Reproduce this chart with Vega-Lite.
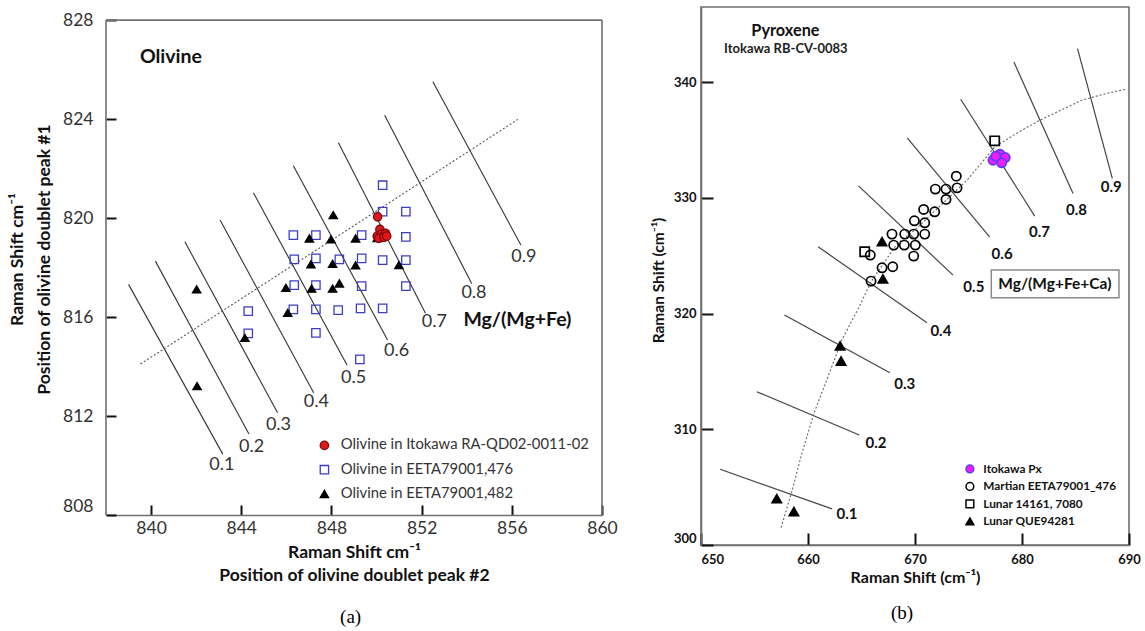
{
  "$schema": "https://vega.github.io/schema/vega-lite/v6.json",
  "background": "white",
  "padding": {"left": 8, "top": 6, "right": 2, "bottom": 2},
  "spacing": 32,
  "resolve": {
    "scale": {"x": "independent", "y": "independent", "shape": "independent", "fill": "independent", "stroke": "independent"},
    "legend": {"shape": "independent", "fill": "independent", "stroke": "independent"}
  },
  "config": {
    "font": "Lato",
    "view": {"stroke": "#707070", "strokeWidth": 1.6},
    "axis": {"grid": false, "domainColor": "#707070", "domainWidth": 1.6, "tickColor": "#111", "tickWidth": 2, "labelFont": "Lato", "titleFont": "Lato", "labelFlush": false},
    "legend": {"labelLimit": 500}
  },
  "hconcat": [
    {
      "width": 496,
      "height": 508,
      "view": {"stroke": null},
      "encoding": {
        "x": {
          "field": "x", "type": "quantitative",
          "scale": {"domain": [838, 860], "nice": false, "zero": false},
          "axis": {
            "values": [840, 844, 848, 852, 856, 860],
            "tickSize": -10, "labelPadding": 14, "labelFontSize": 17.5, "labelColor": "#333",
            "title": ["Raman Shift cm⁻¹", "Position of olivine doublet peak #2"],
            "titleFontSize": 17.5, "titleFontWeight": "bold", "titleColor": "#111",
            "titleBaseline": "top", "titleY": 28, "titleLineHeight": 23.3
          }
        },
        "y": {
          "field": "y", "type": "quantitative",
          "scale": {"domain": [808, 828.53], "nice": false, "zero": false},
          "axis": {
            "values": [808, 812, 816, 820, 824, 828], "domain": false,
            "tickSize": -10, "labelPadding": 23, "labelFontSize": 17.5, "labelColor": "#333",
            "labelBaseline": {"condition": {"test": "datum.value == 808", "value": "bottom"}, "value": "middle"},
            "title": ["Raman Shift cm⁻¹", "Position of olivine doublet peak #1"],
            "titleFontSize": 17.5, "titleFontWeight": "bold", "titleColor": "#111",
            "titleAngle": 270, "titleBaseline": "top", "titleAlign": "center",
            "titleX": -98, "titleY": 252, "titleLineHeight": 27.8
          }
        }
      },
      "layer": [
        {
          "data": {"values": [
            {"x": 838, "x2": 860, "y": 828, "y2": 828},
            {"x": 860, "x2": 860, "y": 808, "y2": 828},
            {"x": 838, "x2": 838, "y": 808, "y2": 828}
          ]},
          "mark": {"type": "rule", "color": "#707070", "strokeWidth": 1.6},
          "encoding": {"x2": {"field": "x2"}, "y2": {"field": "y2"}}
        },
        {
          "data": {"values": [
            {"f": "0.1", "x": 839.0, "y": 817.32}, {"f": "0.1", "x": 843.18, "y": 810.46},
            {"f": "0.2", "x": 840.19, "y": 818.26}, {"f": "0.2", "x": 844.34, "y": 811.27},
            {"f": "0.3", "x": 841.5, "y": 819.04}, {"f": "0.3", "x": 845.61, "y": 812.13},
            {"f": "0.4", "x": 843.06, "y": 819.92}, {"f": "0.4", "x": 847.21, "y": 812.94},
            {"f": "0.5", "x": 844.54, "y": 821.02}, {"f": "0.5", "x": 848.69, "y": 814.06},
            {"f": "0.6", "x": 846.31, "y": 822.11}, {"f": "0.6", "x": 850.49, "y": 815.07},
            {"f": "0.7", "x": 848.31, "y": 823.04}, {"f": "0.7", "x": 852.17, "y": 816.15},
            {"f": "0.8", "x": 850.36, "y": 824.16}, {"f": "0.8", "x": 854.22, "y": 817.36},
            {"f": "0.9", "x": 852.5, "y": 825.51}, {"f": "0.9", "x": 856.4, "y": 818.91}
          ]},
          "mark": {"type": "line", "color": "#333", "strokeWidth": 1.1},
          "encoding": {"detail": {"field": "f"}}
        },
        {
          "data": {"values": [{"x": 839.53, "y": 814.1}, {"x": 856.27, "y": 823.99}]},
          "mark": {"type": "line", "color": "#555", "strokeWidth": 1.1, "strokeDash": [2, 2]},
          "encoding": {}
        },
        {
          "data": {"values": [
            {"s": "Olivine in EETA79001,476", "x": 850.27, "y": 821.33},
            {"s": "Olivine in EETA79001,476", "x": 850.27, "y": 820.26},
            {"s": "Olivine in EETA79001,476", "x": 851.3, "y": 820.26},
            {"s": "Olivine in EETA79001,476", "x": 846.31, "y": 819.31},
            {"s": "Olivine in EETA79001,476", "x": 847.31, "y": 819.31},
            {"s": "Olivine in EETA79001,476", "x": 849.34, "y": 819.31},
            {"s": "Olivine in EETA79001,476", "x": 851.3, "y": 819.24},
            {"s": "Olivine in EETA79001,476", "x": 846.35, "y": 818.33},
            {"s": "Olivine in EETA79001,476", "x": 847.31, "y": 818.37},
            {"s": "Olivine in EETA79001,476", "x": 848.35, "y": 818.33},
            {"s": "Olivine in EETA79001,476", "x": 849.34, "y": 818.37},
            {"s": "Olivine in EETA79001,476", "x": 850.27, "y": 818.3},
            {"s": "Olivine in EETA79001,476", "x": 851.3, "y": 818.3},
            {"s": "Olivine in EETA79001,476", "x": 846.35, "y": 817.29},
            {"s": "Olivine in EETA79001,476", "x": 847.31, "y": 817.29},
            {"s": "Olivine in EETA79001,476", "x": 849.34, "y": 817.25},
            {"s": "Olivine in EETA79001,476", "x": 851.3, "y": 817.25},
            {"s": "Olivine in EETA79001,476", "x": 844.31, "y": 816.24},
            {"s": "Olivine in EETA79001,476", "x": 846.31, "y": 816.31},
            {"s": "Olivine in EETA79001,476", "x": 847.31, "y": 816.31},
            {"s": "Olivine in EETA79001,476", "x": 848.3, "y": 816.28},
            {"s": "Olivine in EETA79001,476", "x": 849.29, "y": 816.35},
            {"s": "Olivine in EETA79001,476", "x": 850.27, "y": 816.35},
            {"s": "Olivine in EETA79001,476", "x": 844.31, "y": 815.34},
            {"s": "Olivine in EETA79001,476", "x": 847.31, "y": 815.36},
            {"s": "Olivine in EETA79001,476", "x": 849.26, "y": 814.29},
            {"s": "Olivine in EETA79001,482", "x": 848.08, "y": 820.12},
            {"s": "Olivine in EETA79001,482", "x": 847.02, "y": 819.18},
            {"s": "Olivine in EETA79001,482", "x": 847.98, "y": 819.14},
            {"s": "Olivine in EETA79001,482", "x": 849.07, "y": 819.18},
            {"s": "Olivine in EETA79001,482", "x": 850.03, "y": 819.2},
            {"s": "Olivine in EETA79001,482", "x": 847.09, "y": 818.13},
            {"s": "Olivine in EETA79001,482", "x": 848.05, "y": 818.15},
            {"s": "Olivine in EETA79001,482", "x": 849.07, "y": 818.09},
            {"s": "Olivine in EETA79001,482", "x": 850.99, "y": 818.1},
            {"s": "Olivine in EETA79001,482", "x": 842.02, "y": 817.12},
            {"s": "Olivine in EETA79001,482", "x": 845.98, "y": 817.18},
            {"s": "Olivine in EETA79001,482", "x": 847.12, "y": 817.15},
            {"s": "Olivine in EETA79001,482", "x": 848.05, "y": 817.15},
            {"s": "Olivine in EETA79001,482", "x": 848.35, "y": 817.36},
            {"s": "Olivine in EETA79001,482", "x": 846.06, "y": 816.17},
            {"s": "Olivine in EETA79001,482", "x": 844.16, "y": 815.16},
            {"s": "Olivine in EETA79001,482", "x": 842.04, "y": 813.21},
            {"s": "Olivine in Itokawa RA-QD02-0011-02", "x": 850.05, "y": 820.05},
            {"s": "Olivine in Itokawa RA-QD02-0011-02", "x": 850.15, "y": 819.54},
            {"s": "Olivine in Itokawa RA-QD02-0011-02", "x": 850.03, "y": 819.27},
            {"s": "Olivine in Itokawa RA-QD02-0011-02", "x": 850.22, "y": 819.35},
            {"s": "Olivine in Itokawa RA-QD02-0011-02", "x": 850.4, "y": 819.38},
            {"s": "Olivine in Itokawa RA-QD02-0011-02", "x": 850.1, "y": 819.18},
            {"s": "Olivine in Itokawa RA-QD02-0011-02", "x": 850.33, "y": 819.22},
            {"s": "Olivine in Itokawa RA-QD02-0011-02", "x": 850.45, "y": 819.27}
          ]},
          "mark": {"type": "point", "size": 70, "strokeWidth": 1.3, "opacity": 1},
          "encoding": {
            "shape": {"field": "s", "type": "nominal",
              "scale": {"domain": ["Olivine in Itokawa RA-QD02-0011-02", "Olivine in EETA79001,476", "Olivine in EETA79001,482"], "range": ["circle", "square", "triangle-up"]},
              "legend": {"orient": "none", "legendX": 211, "legendY": 431, "title": null, "labelFontSize": 14.8, "labelColor": "#333", "labelFont": "Lato", "symbolSize": 70, "rowPadding": 8.3, "labelOffset": 9, "symbolStrokeWidth": 1.3}},
            "fill": {"field": "s", "type": "nominal",
              "scale": {"domain": ["Olivine in Itokawa RA-QD02-0011-02", "Olivine in EETA79001,476", "Olivine in EETA79001,482"], "range": ["#e3161c", "transparent", "#000000"]},
              "legend": {"orient": "none", "legendX": 211, "legendY": 431, "title": null, "labelFontSize": 14.8, "labelColor": "#333", "labelFont": "Lato", "symbolSize": 70, "rowPadding": 8.3, "labelOffset": 9, "symbolStrokeWidth": 1.3}},
            "stroke": {"field": "s", "type": "nominal",
              "scale": {"domain": ["Olivine in Itokawa RA-QD02-0011-02", "Olivine in EETA79001,476", "Olivine in EETA79001,482"], "range": ["#7a0a0a", "#3d3dc6", "#000000"]},
              "legend": {"orient": "none", "legendX": 211, "legendY": 431, "title": null, "labelFontSize": 14.8, "labelColor": "#333", "labelFont": "Lato", "symbolSize": 70, "rowPadding": 8.3, "labelOffset": 9, "symbolStrokeWidth": 1.3}}
          }
        },
        {
          "data": {"values": [
            {"label": "0.1", "x": 843.14, "y": 810.01},
            {"label": "0.2", "x": 844.46, "y": 810.74},
            {"label": "0.3", "x": 845.65, "y": 811.62},
            {"label": "0.4", "x": 847.33, "y": 812.56},
            {"label": "0.5", "x": 848.98, "y": 813.54},
            {"label": "0.6", "x": 850.89, "y": 814.62},
            {"label": "0.7", "x": 852.56, "y": 815.79},
            {"label": "0.8", "x": 854.32, "y": 816.98},
            {"label": "0.9", "x": 856.53, "y": 818.41}
          ]},
          "mark": {"type": "text", "fontSize": 18, "color": "#333", "font": "Lato", "align": "center", "baseline": "middle"},
          "encoding": {"text": {"field": "label"}}
        },
        {
          "data": {"values": [{"label": "Olivine", "x": 840.88, "y": 826.49}]},
          "mark": {"type": "text", "fontSize": 19.5, "fontWeight": "bold", "color": "#111", "font": "Lato", "align": "center", "baseline": "middle"},
          "encoding": {"text": {"field": "label"}}
        },
        {
          "data": {"values": [{"label": "Mg/(Mg+Fe)", "x": 856.25, "y": 815.89}]},
          "mark": {"type": "text", "fontSize": 19.5, "fontWeight": "bold", "color": "#111", "font": "Lato", "align": "center", "baseline": "middle"},
          "encoding": {"text": {"field": "label"}}
        },
        {
          "data": {"values": [{"label": "(a)", "x": 848.85, "y": 803.89}]},
          "mark": {"type": "text", "fontSize": 19, "color": "#000", "font": "Liberation Serif", "align": "center", "baseline": "middle"},
          "encoding": {"text": {"field": "label"}}
        }
      ]
    },
    {
      "width": 428,
      "height": 538,
      "encoding": {
        "x": {
          "field": "x", "type": "quantitative",
          "scale": {"domain": [650, 690], "nice": false, "zero": false},
          "axis": {
            "values": [650, 660, 670, 680, 690],
            "tickSize": -12, "labelPadding": 20, "labelFontSize": 13, "labelFontWeight": "bold", "labelColor": "#111",
            "labelAlign": {"condition": {"test": "datum.value == 650", "value": "left"}, "value": "center"},
            "title": "Raman Shift (cm⁻¹)", "titleFontSize": 16, "titleFontWeight": "bold", "titleColor": "#111",
            "titleBaseline": "top", "titleY": 24.5
          }
        },
        "y": {
          "field": "y", "type": "quantitative",
          "scale": {"domain": [300, 346.5], "nice": false, "zero": false},
          "axis": {
            "values": [300, 310, 320, 330, 340],
            "tickSize": -12, "labelPadding": 17, "labelFontSize": 13, "labelFontWeight": "bold", "labelColor": "#111",
            "labelBaseline": {"condition": {"test": "datum.value == 300", "value": "bottom"}, "value": "middle"},
            "title": "Raman Shift (cm⁻¹)", "titleFontSize": 15.5, "titleFontWeight": "bold", "titleColor": "#111",
            "titleAngle": 270, "titleBaseline": "top", "titleAlign": "center", "titleX": -50, "titleY": 273
          }
        }
      },
      "layer": [
        {
          "data": {"values": [
            {"f": "0.1", "x": 651.79, "y": 306.55}, {"f": "0.1", "x": 662.25, "y": 303.12},
            {"f": "0.2", "x": 655.21, "y": 313.25}, {"f": "0.2", "x": 664.79, "y": 309.51},
            {"f": "0.3", "x": 657.8, "y": 319.88}, {"f": "0.3", "x": 667.65, "y": 314.89},
            {"f": "0.4", "x": 660.95, "y": 325.77}, {"f": "0.4", "x": 671.12, "y": 319.21},
            {"f": "0.5", "x": 664.72, "y": 331.04}, {"f": "0.5", "x": 673.55, "y": 323.33},
            {"f": "0.6", "x": 669.27, "y": 335.19}, {"f": "0.6", "x": 676.97, "y": 326.64},
            {"f": "0.7", "x": 674.27, "y": 338.53}, {"f": "0.7", "x": 681.19, "y": 328.43},
            {"f": "0.8", "x": 679.24, "y": 341.75}, {"f": "0.8", "x": 684.77, "y": 330.39},
            {"f": "0.9", "x": 685.19, "y": 342.91}, {"f": "0.9", "x": 688.44, "y": 331.68}
          ]},
          "mark": {"type": "line", "color": "#444", "strokeWidth": 1.2},
          "encoding": {"detail": {"field": "f"}}
        },
        {
          "data": {"values": [
            {"x": 657.48, "y": 301.5}, {"x": 658.45, "y": 304.48}, {"x": 659.43, "y": 307.93},
            {"x": 660.56, "y": 311.39}, {"x": 661.87, "y": 314.55}, {"x": 663.16, "y": 317.72},
            {"x": 664.79, "y": 320.6}, {"x": 665.93, "y": 322.81}, {"x": 667.06, "y": 324.34},
            {"x": 668.35, "y": 326.07}, {"x": 669.98, "y": 327.22}, {"x": 671.61, "y": 328.66},
            {"x": 673.23, "y": 330.09}, {"x": 674.86, "y": 331.53}, {"x": 676.16, "y": 332.97},
            {"x": 677.46, "y": 334.41}, {"x": 679.73, "y": 335.71}, {"x": 681.68, "y": 336.72},
            {"x": 682.98, "y": 337.29}, {"x": 685.58, "y": 338.44}, {"x": 687.85, "y": 339.02},
            {"x": 689.64, "y": 339.37}
          ]},
          "mark": {"type": "line", "color": "#666", "strokeWidth": 1.1, "strokeDash": [2, 2]},
          "encoding": {}
        },
        {
          "data": {"values": [
            {"s": "Martian EETA79001_476", "x": 673.86, "y": 331.88},
            {"s": "Martian EETA79001_476", "x": 671.9, "y": 330.76},
            {"s": "Martian EETA79001_476", "x": 672.9, "y": 330.76},
            {"s": "Martian EETA79001_476", "x": 673.93, "y": 330.87},
            {"s": "Martian EETA79001_476", "x": 672.9, "y": 329.87},
            {"s": "Martian EETA79001_476", "x": 671.84, "y": 328.8},
            {"s": "Martian EETA79001_476", "x": 670.81, "y": 329.0},
            {"s": "Martian EETA79001_476", "x": 669.94, "y": 328.02},
            {"s": "Martian EETA79001_476", "x": 670.91, "y": 327.85},
            {"s": "Martian EETA79001_476", "x": 667.85, "y": 326.87},
            {"s": "Martian EETA79001_476", "x": 669.04, "y": 326.87},
            {"s": "Martian EETA79001_476", "x": 669.88, "y": 326.87},
            {"s": "Martian EETA79001_476", "x": 670.91, "y": 326.87},
            {"s": "Martian EETA79001_476", "x": 668.01, "y": 325.92},
            {"s": "Martian EETA79001_476", "x": 669.0, "y": 325.92},
            {"s": "Martian EETA79001_476", "x": 670.03, "y": 325.92},
            {"s": "Martian EETA79001_476", "x": 669.88, "y": 324.97},
            {"s": "Martian EETA79001_476", "x": 665.82, "y": 325.06},
            {"s": "Martian EETA79001_476", "x": 666.92, "y": 323.96},
            {"s": "Martian EETA79001_476", "x": 667.92, "y": 324.05},
            {"s": "Martian EETA79001_476", "x": 665.89, "y": 322.81},
            {"s": "Lunar 14161,  7080", "x": 665.3, "y": 325.34},
            {"s": "Lunar 14161,  7080", "x": 677.45, "y": 334.93},
            {"s": "Lunar QUE94281", "x": 666.92, "y": 326.21},
            {"s": "Lunar QUE94281", "x": 667.0, "y": 323.0},
            {"s": "Lunar QUE94281", "x": 663.0, "y": 317.2},
            {"s": "Lunar QUE94281", "x": 663.09, "y": 315.9},
            {"s": "Lunar QUE94281", "x": 657.08, "y": 304.0},
            {"s": "Lunar QUE94281", "x": 658.68, "y": 302.89},
            {"s": "Itokawa  Px", "x": 677.29, "y": 333.26},
            {"s": "Itokawa  Px", "x": 677.94, "y": 333.78},
            {"s": "Itokawa  Px", "x": 678.43, "y": 333.49},
            {"s": "Itokawa  Px", "x": 678.1, "y": 333.03},
            {"s": "Itokawa  Px", "x": 677.55, "y": 333.61}
          ]},
          "mark": {"type": "point", "size": 85, "strokeWidth": 1.7, "opacity": 1},
          "encoding": {
            "shape": {"field": "s", "type": "nominal",
              "scale": {"domain": ["Itokawa  Px", "Martian EETA79001_476", "Lunar 14161,  7080", "Lunar QUE94281"], "range": ["circle", "circle", "square", "triangle-up"]},
              "legend": {"orient": "none", "legendX": 263, "legendY": 456, "title": null, "labelFontSize": 11.8, "labelFontWeight": "bold", "labelColor": "#111", "labelFont": "Lato", "symbolSize": 60, "rowPadding": 3.5, "labelOffset": 7.5, "symbolStrokeWidth": 1.5}},
            "fill": {"field": "s", "type": "nominal",
              "scale": {"domain": ["Itokawa  Px", "Martian EETA79001_476", "Lunar 14161,  7080", "Lunar QUE94281"], "range": ["#f01ef0", "transparent", "transparent", "#000000"]},
              "legend": {"orient": "none", "legendX": 263, "legendY": 456, "title": null, "labelFontSize": 11.8, "labelFontWeight": "bold", "labelColor": "#111", "labelFont": "Lato", "symbolSize": 60, "rowPadding": 3.5, "labelOffset": 7.5, "symbolStrokeWidth": 1.5}},
            "stroke": {"field": "s", "type": "nominal",
              "scale": {"domain": ["Itokawa  Px", "Martian EETA79001_476", "Lunar 14161,  7080", "Lunar QUE94281"], "range": ["#5a3cff", "#000000", "#000000", "#000000"]},
              "legend": {"orient": "none", "legendX": 263, "legendY": 456, "title": null, "labelFontSize": 11.8, "labelFontWeight": "bold", "labelColor": "#111", "labelFont": "Lato", "symbolSize": 60, "rowPadding": 3.5, "labelOffset": 7.5, "symbolStrokeWidth": 1.5}}
          }
        },
        {
          "data": {"values": [
            {"label": "0.1", "x": 663.64, "y": 302.67},
            {"label": "0.2", "x": 666.35, "y": 308.85},
            {"label": "0.3", "x": 669.04, "y": 313.89},
            {"label": "0.4", "x": 672.42, "y": 318.52},
            {"label": "0.5", "x": 675.5, "y": 322.27},
            {"label": "0.6", "x": 678.14, "y": 325.14},
            {"label": "0.7", "x": 681.64, "y": 327.07},
            {"label": "0.8", "x": 685.09, "y": 328.94},
            {"label": "0.9", "x": 688.34, "y": 330.96}
          ]},
          "mark": {"type": "text", "fontSize": 15, "fontWeight": "bold", "color": "#111", "font": "Lato", "align": "center", "baseline": "middle"},
          "encoding": {"text": {"field": "label"}}
        },
        {
          "data": {"values": [{"label": "Pyroxene", "x": 657.89, "y": 344.42}]},
          "mark": {"type": "text", "fontSize": 16.3, "fontWeight": "bold", "color": "#111", "font": "Lato", "align": "center", "baseline": "middle"},
          "encoding": {"text": {"field": "label"}}
        },
        {
          "data": {"values": [{"label": "Itokawa RB-CV-0083", "x": 657.93, "y": 342.86}]},
          "mark": {"type": "text", "fontSize": 13, "fontWeight": "bold", "color": "#222", "font": "Lato", "align": "center", "baseline": "middle"},
          "encoding": {"text": {"field": "label"}}
        },
        {
          "data": {"values": [{"x": 677.13, "x2": 689.06, "y": 323.76, "y2": 321.37}]},
          "mark": {"type": "rect", "fill": "white", "stroke": "#8a8a8a", "strokeWidth": 1.5},
          "encoding": {"x2": {"field": "x2"}, "y2": {"field": "y2"}}
        },
        {
          "data": {"values": [{"label": "Mg/(Mg+Fe+Ca)", "x": 683.07, "y": 322.55}]},
          "mark": {"type": "text", "fontSize": 15.5, "fontWeight": "bold", "color": "#111", "font": "Lato", "align": "center", "baseline": "middle"},
          "encoding": {"text": {"field": "label"}}
        },
        {
          "data": {"values": [{"label": "(b)", "x": 668.79, "y": 294.12}]},
          "mark": {"type": "text", "fontSize": 19, "color": "#000", "font": "Liberation Serif", "align": "center", "baseline": "middle"},
          "encoding": {"text": {"field": "label"}}
        }
      ]
    }
  ]
}
